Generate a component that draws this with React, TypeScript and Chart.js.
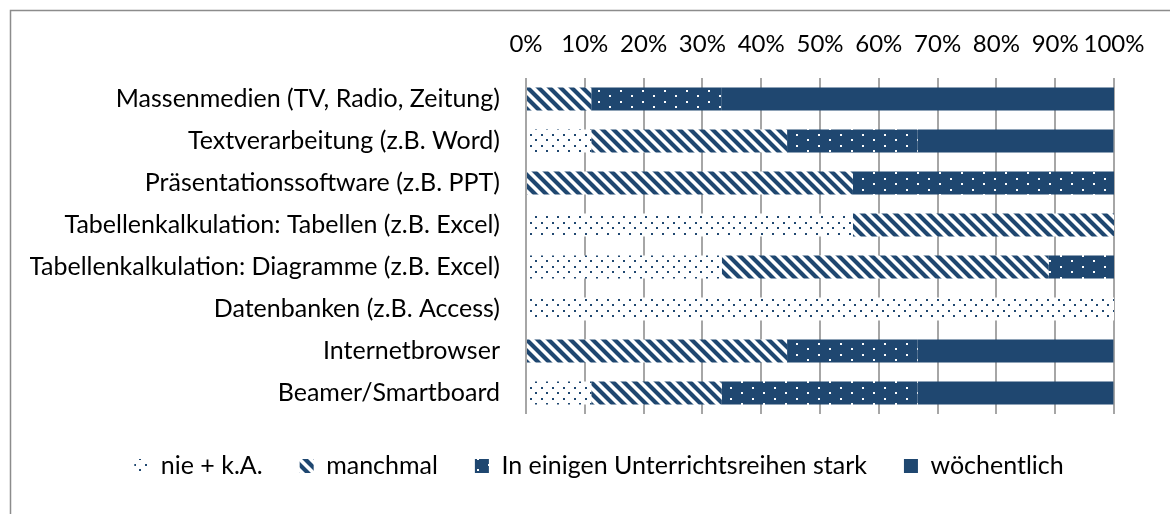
import React, { useEffect, useRef } from "react";
import { Chart, registerables } from "chart.js";

Chart.register(...registerables);

const categories = [
  "Massenmedien (TV, Radio, Zeitung)",
  "Textverarbeitung (z.B. Word)",
  "Präsentationssoftware (z.B. PPT)",
  "Tabellenkalkulation: Tabellen (z.B. Excel)",
  "Tabellenkalkulation: Diagramme (z.B. Excel)",
  "Datenbanken (z.B. Access)",
  "Internetbrowser",
  "Beamer/Smartboard",
];

const seriesNames = ["nie + k.A.", "manchmal", "In einigen Unterrichtsreihen stark", "wöchentlich"];

const nieValues = [0, 11.1, 0, 55.6, 33.3, 100, 0, 11.1];
const manchmalValues = [11.1, 33.3, 55.6, 44.4, 55.6, 0, 44.4, 22.2];
const starkValues = [22.2, 22.2, 44.4, 0, 11.1, 0, 22.2, 33.3];
const woechentlichValues = [66.7, 33.3, 0, 0, 0, 0, 33.3, 33.3];

const tickValues = [0, 10, 20, 30, 40, 50, 60, 70, 80, 90, 100];

const BLUE = "#1f4770";
const FONT = "Lato";

function makeTile(w: number, h: number, draw: (c: CanvasRenderingContext2D) => void) {
  const cv = document.createElement("canvas");
  cv.width = w;
  cv.height = h;
  const c = cv.getContext("2d")!;
  draw(c);
  return c.createPattern(cv, "repeat")!;
}

export default function App() {
  const ref = useRef<HTMLCanvasElement>(null);

  useEffect(() => {
    const canvas = ref.current!;
    const dotsLight = makeTile(11, 11, (c) => {
      c.fillStyle = "#ffffff";
      c.fillRect(0, 0, 11, 11);
      c.fillStyle = BLUE;
      c.fillRect(2, 2, 2, 2);
      c.fillRect(7, 7, 2, 2);
    });
    const stripes = makeTile(11, 11, (c) => {
      c.fillStyle = "#ffffff";
      c.fillRect(0, 0, 11, 11);
      c.strokeStyle = BLUE;
      c.lineWidth = 4.2;
      c.beginPath();
      for (const k of [-11, 0, 11]) {
        c.moveTo(k - 2, -2);
        c.lineTo(k + 13, 13);
      }
      c.stroke();
    });
    const dotsDark = makeTile(22, 11, (c) => {
      c.fillStyle = BLUE;
      c.fillRect(0, 0, 22, 11);
      c.fillStyle = "#ffffff";
      c.fillRect(4, 2, 2, 2);
      c.fillRect(15, 7, 2, 2);
    });

    const borderPlugin = {
      id: "outerBorder",
      beforeDraw(chart: any) {
        const c = chart.ctx;
        c.save();
        c.fillStyle = "#ffffff";
        c.fillRect(0, 0, chart.width, chart.height);
        c.strokeStyle = "#8c8c8c";
        c.lineWidth = 1.5;
        c.strokeRect(10.5, 10.5, chart.width + 20, chart.height + 20);
        c.restore();
      },
    };

    const legendShift = {
      id: "legendShift",
      afterLayout(chart: any) {
        if (chart.legend) chart.legend.left = 84;
      },
    };

    const chart = new Chart(canvas, {
      type: "bar",
      data: {
        labels: categories,
        datasets: [
          { label: seriesNames[0], data: nieValues, backgroundColor: dotsLight as any },
          { label: seriesNames[1], data: manchmalValues, backgroundColor: stripes as any },
          { label: seriesNames[2], data: starkValues, backgroundColor: dotsDark as any },
          { label: seriesNames[3], data: woechentlichValues, backgroundColor: BLUE },
        ],
      },
      options: {
        indexAxis: "y",
        responsive: false,
        animation: false,
        devicePixelRatio: 1,
        layout: { padding: { left: 30, right: 56, top: 20, bottom: 25.5 } },
        datasets: { bar: { barPercentage: 0.55, categoryPercentage: 1, borderWidth: 0 } },
        scales: {
          x: {
            position: "top",
            stacked: true,
            min: 0,
            max: 100,
            afterBuildTicks: (s: any) => {
              s.ticks = tickValues.map((v) => ({ value: v }));
            },
            afterFit: (s: any) => {
              s.height = 58;
            },
            grid: { color: "#a6a6a6", lineWidth: 2, drawTicks: false },
            border: { display: false },
            ticks: {
              padding: 19,
              autoSkip: false,
              maxRotation: 0,
              minRotation: 0,
              color: "#000000",
              font: { family: FONT, size: 24 },
              callback: (v: any) => v + "%",
            },
          },
          y: {
            stacked: true,
            afterFit: (s: any) => {
              s.width = 526 - 30;
            },
            grid: { display: false, drawTicks: false },
            border: { display: false },
            ticks: {
              padding: 26,
              autoSkip: false,
              color: "#000000",
              font: { family: FONT, size: 25 },
            },
          },
        },
        plugins: {
          legend: {
            position: "bottom",
            title: { display: true, text: "", padding: { top: 1.5, bottom: 0 }, font: { size: 1, lineHeight: 1 } },
            labels: {
              boxWidth: 14,
              boxHeight: 14,
              padding: 37,
              color: "#000000",
              font: { family: FONT, size: 25 },
            },
          },
          tooltip: { enabled: false },
        },
      },
      plugins: [borderPlugin, legendShift],
    });
    return () => chart.destroy();
  }, []);

  return (
    <div style={{ position: "absolute", left: 0, top: 0, width: 1170, height: 514 }}>
      <canvas ref={ref} width={1170} height={514} style={{ display: "block", width: 1170, height: 514 }} />
    </div>
  );
}
